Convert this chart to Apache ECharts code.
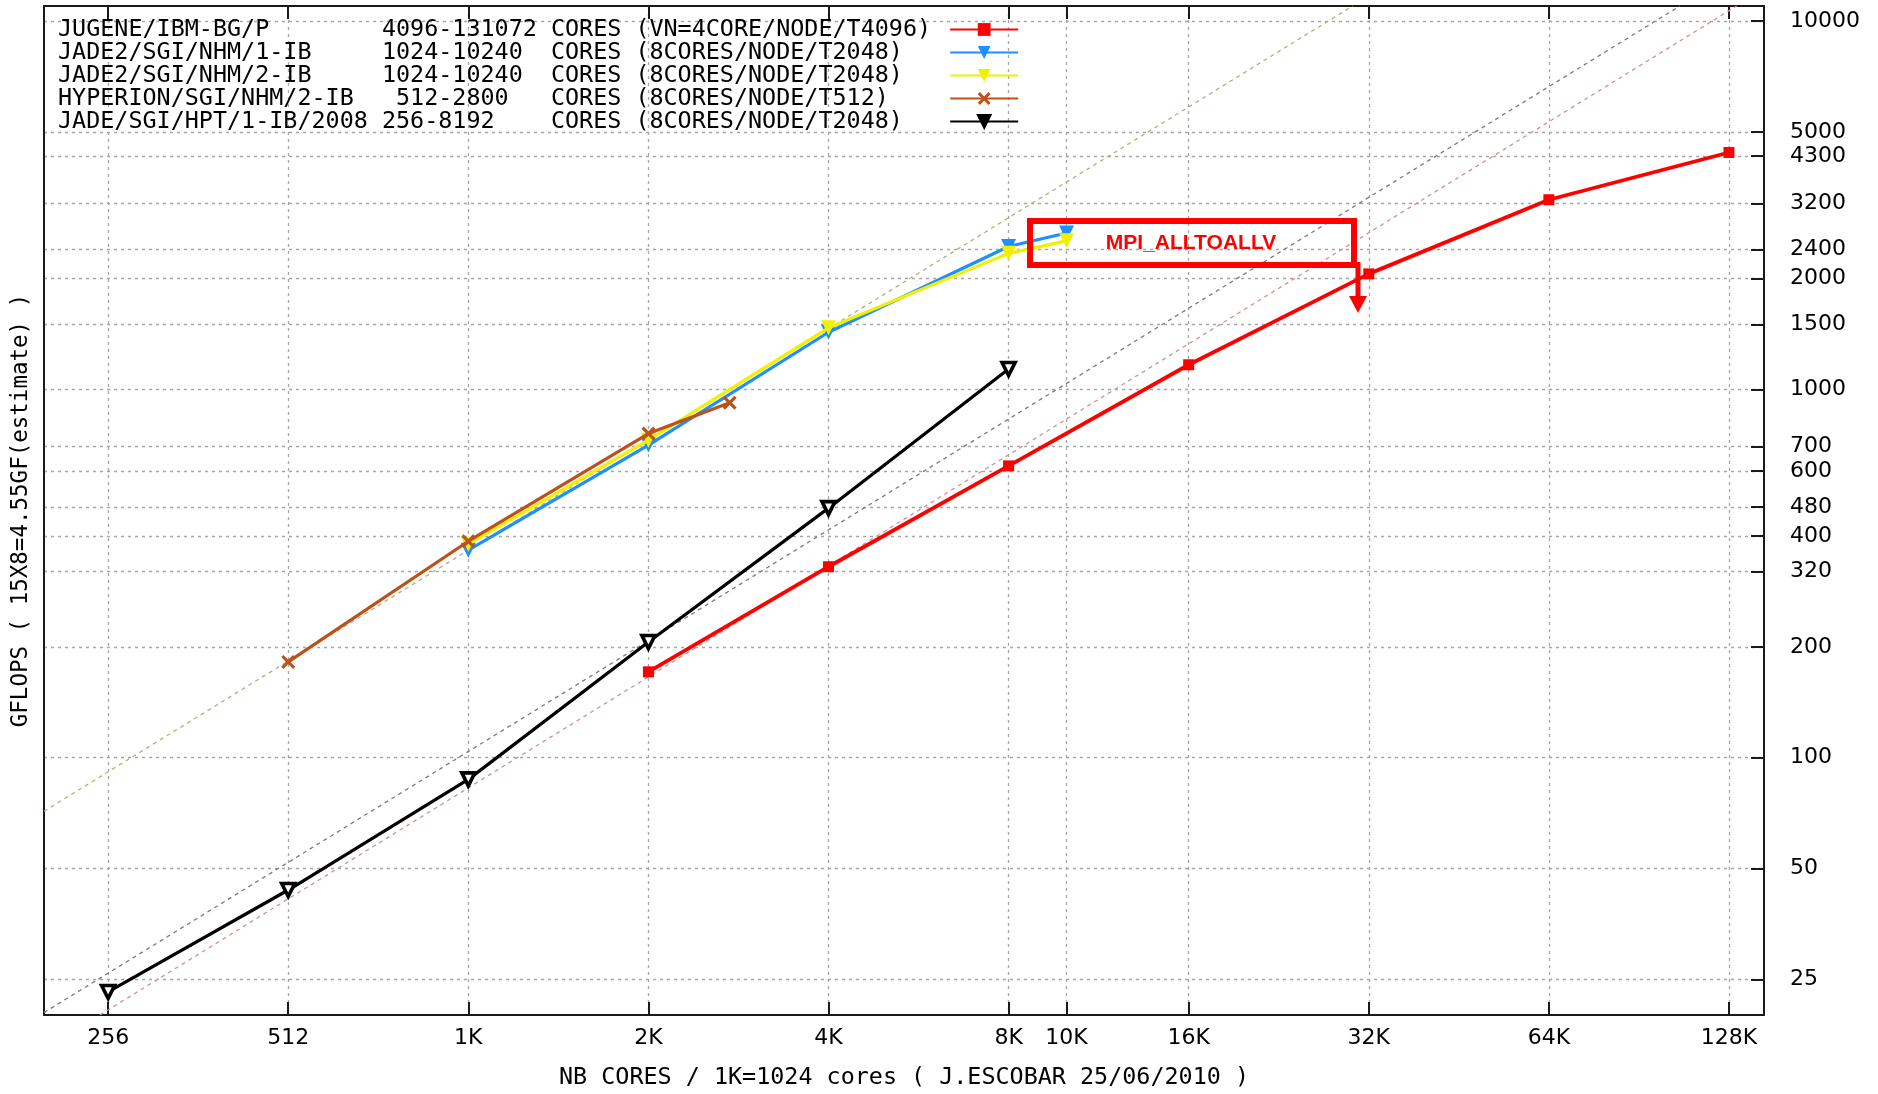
<!DOCTYPE html>
<html>
<head>
<meta charset="utf-8">
<script src="https://cdn.jsdelivr.net/npm/echarts@6.0.0/dist/echarts.min.js"></script>
<style>
html,body{margin:0;padding:0;background:#ffffff;}
#chart{width:1878px;height:1094px;}
</style>
</head>
<body>
<div id="chart"></div>
<script>
// ---------------- data ----------------
const xTickValues = [256, 512, 1024, 2048, 4096, 8192, 10240, 16384, 32768, 65536, 131072];
const xTickLabels = ['256', '512', '1K', '2K', '4K', '8K', '10K', '16K', '32K', '64K', '128K'];
const yTickValues = [25, 50, 100, 200, 320, 400, 480, 600, 700, 1000, 1500, 2000, 2400, 3200, 4300, 5000, 10000];

const jugeneCores   = [2048, 4096, 8192, 16384, 32768, 65536, 131072];
const jugeneGflops  = [171, 330, 620, 1167, 2060, 3275, 4400];

const jade2ib1Cores  = [1024, 2048, 4096, 8192, 10240];
const jade2ib1Gflops = [366, 706, 1430, 2445, 2660];

const jade2ib2Cores  = [1024, 2048, 4096, 8192, 10240];
const jade2ib2Gflops = [380, 728, 1470, 2342, 2533];

const hyperionCores  = [512, 1024, 2048, 2800];
const hyperionGflops = [182, 387, 759, 920];

const jadeCores  = [256, 512, 1024, 2048, 4096, 8192];
const jadeGflops = [23.1, 43.7, 87.3, 206, 476, 1136];

// ideal-scaling guide lines (end points)
const idealHyperionCores  = [200, 30800];
const idealHyperionGflops = [71.5, 11000];
const idealJadeCores      = [200, 108500];
const idealJadeGflops     = [20.3, 11000];
const idealJugeneCores    = [248, 135000];
const idealJugeneGflops   = [20, 11000];

// legend text columns
const machineNames = ['JUGENE/IBM-BG/P', 'JADE2/SGI/NHM/1-IB', 'JADE2/SGI/NHM/2-IB', 'HYPERION/SGI/NHM/2-IB', 'JADE/SGI/HPT/1-IB/2008'];
const coreRanges   = ['4096-131072', '1024-10240', '1024-10240', '512-2800', '256-8192'];
const nodeInfos    = ['(VN=4CORE/NODE/T4096)', '(8CORES/NODE/T2048)', '(8CORES/NODE/T2048)', '(8CORES/NODE/T512)', '(8CORES/NODE/T2048)'];

const xAxisTitle = 'NB CORES / 1K=1024 cores ( J.ESCOBAR 25/06/2010 )';
const yAxisTitle = 'GFLOPS ( 15X8=4.55GF(estimate) )';
const annotationText = 'MPI_ALLTOALLV';

// ---------------- build ----------------
const rangeCols = [23, 23, 23, 24, 23];
const legendLabels = machineNames.map((n, i) =>
  n.padEnd(rangeCols[i], ' ') + coreRanges[i].padEnd(35 - rangeCols[i], ' ') + 'CORES ' + nodeInfos[i]);

function pairs(xs, ys) { return xs.map((x, i) => [x, ys[i]]); }

const MONO = 'DejaVu Sans Mono';
const SANS = 'DejaVu Sans';
const FRAME = '#1a1a1a';
const GRIDC = '#a6a6a6';

const crossPath = 'path://M0,1.6L1.6,0L5,3.4L8.4,0L10,1.6L6.6,5L10,8.4L8.4,10L5,6.6L1.6,10L0,8.4L3.4,5Z';

function xLabel(v) {
  let best = 0, bd = Infinity;
  xTickValues.forEach((t, i) => { const d = Math.abs(Math.log2(v) - Math.log2(t)); if (d < bd) { bd = d; best = i; } });
  return xTickLabels[best];
}

function guide(xs, ys, color) {
  return {
    type: 'line', data: pairs(xs, ys), symbol: 'none', silent: true, z: 1,
    xAxisIndex: 0, yAxisIndex: 0,
    lineStyle: { color: color, width: 1.3, type: [4, 4] },
    emphasis: { disabled: true }
  };
}

function dataSeries(idx, xs, ys, color, symbol, size, rotate, width, itemStyle) {
  return {
    name: legendLabels[idx], type: 'line', data: pairs(xs, ys),
    xAxisIndex: 0, yAxisIndex: 0, z: 3 + idx,
    symbol: symbol, symbolSize: size, symbolRotate: rotate,
    showAllSymbol: true,
    lineStyle: { color: color, width: width },
    itemStyle: itemStyle || { color: color },
    emphasis: { disabled: true }
  };
}

const chart = echarts.init(document.getElementById('chart'), null, { renderer: 'canvas' });

const legendData = legendLabels.map((n, i) => i === 4 ? { name: n, itemStyle: { color: '#000', borderColor: '#000' } } : { name: n });

const option = {
  animation: false,
  backgroundColor: '#ffffff',
  grid: { left: 44, right: 114, top: 6, bottom: 69, containLabel: false },
  legend: {
    data: legendData,
    orient: 'vertical', align: 'right',
    left: 58, top: 18, padding: 0, itemGap: 0,
    itemWidth: 68, itemHeight: 16,
    selectedMode: false,
    formatter: name => name.padEnd(63, '\u00a0'),
    textStyle: { fontFamily: MONO, fontSize: 23.4, color: '#000', lineHeight: 22.2 }
  },
  xAxis: [
    {
      type: 'log', logBase: 2, min: 200, max: 150000, position: 'bottom',
      axisLine: { show: true, onZero: false, lineStyle: { color: FRAME, width: 2 } },
      axisTick: { show: true, inside: true, length: 13, customValues: xTickValues, lineStyle: { color: FRAME, width: 2 } },
      axisLabel: { show: true, customValues: xTickValues, margin: 12, fontFamily: SANS, fontSize: 22, color: '#000', formatter: v => xLabel(v) },
      splitLine: { show: true, lineStyle: { color: GRIDC, width: 1.3, type: [3, 4] } },
      minorTick: { show: false }, minorSplitLine: { show: false },
      name: xAxisTitle, nameLocation: 'middle', nameGap: 51,
      nameTextStyle: { fontFamily: MONO, fontSize: 23.4, color: '#000' }
    },
    {
      type: 'log', logBase: 2, min: 200, max: 150000, position: 'top',
      axisLine: { show: true, onZero: false, lineStyle: { color: FRAME, width: 2 } },
      axisTick: { show: true, inside: true, length: 13, customValues: xTickValues, lineStyle: { color: FRAME, width: 2 } },
      axisLabel: { show: false },
      splitLine: { show: false }
    }
  ],
  yAxis: [
    {
      type: 'log', logBase: 2, min: 20, max: 11000, position: 'right',
      axisLine: { show: true, onZero: false, lineStyle: { color: FRAME, width: 2 } },
      axisTick: { show: true, inside: true, length: 13, customValues: yTickValues, lineStyle: { color: FRAME, width: 2 } },
      axisLabel: { show: true, customValues: yTickValues, margin: 26, fontFamily: SANS, fontSize: 22, color: '#000', formatter: v => String(Math.round(v)) },
      splitLine: { show: true, lineStyle: { color: GRIDC, width: 1.3, type: [3, 4] } },
      minorTick: { show: false }, minorSplitLine: { show: false }
    },
    {
      type: 'log', logBase: 2, min: 20, max: 11000, position: 'left',
      axisLine: { show: true, onZero: false, lineStyle: { color: FRAME, width: 2 } },
      axisTick: { show: false }, axisLabel: { show: false }, splitLine: { show: false },
      name: yAxisTitle, nameLocation: 'middle', nameGap: 11, nameRotate: 90,
      nameTextStyle: { fontFamily: MONO, fontSize: 22.5, color: '#000' }
    }
  ],
  series: [
    guide(idealHyperionCores, idealHyperionGflops, '#b3b07a'),
    guide(idealJadeCores, idealJadeGflops, '#7a7a7a'),
    guide(idealJugeneCores, idealJugeneGflops, '#d49090'),
    dataSeries(0, jugeneCores, jugeneGflops, '#ff0000', 'rect', 11, 0, 3.8),
    dataSeries(1, jade2ib1Cores, jade2ib1Gflops, '#1e8fff', 'triangle', 15, 180, 3.2),
    dataSeries(2, jade2ib2Cores, jade2ib2Gflops, '#f0f000', 'triangle', 15, 180, 3.2),
    dataSeries(3, hyperionCores, hyperionGflops, '#c0501a', crossPath, 14, 0, 3.2),
    dataSeries(4, jadeCores, jadeGflops, '#000000', 'triangle', 13, 180, 3.2,
      { color: '#ffffff', borderColor: '#000000', borderWidth: 3.6 })
  ],
  graphic: [
    {
      type: 'rect', z: 100,
      shape: { x: 1030, y: 221, width: 324, height: 44 },
      style: { fill: null, stroke: '#ff0000', lineWidth: 6 }
    },
    {
      type: 'text', z: 101, x: 1191, y: 243,
      style: { text: annotationText, fill: '#ff0000', font: 'bold 21px "Liberation Sans", Arial, sans-serif', textAlign: 'center', textVerticalAlign: 'middle' }
    },
    {
      type: 'line', z: 100,
      shape: { x1: 1358, y1: 262, x2: 1358, y2: 300 },
      style: { stroke: '#ff0000', lineWidth: 5 }
    },
    {
      type: 'polygon', z: 100,
      shape: { points: [[1349, 296], [1367, 296], [1358, 313]] },
      style: { fill: '#ff0000' }
    }
  ]
};

chart.setOption(option);
</script>
</body>
</html>
